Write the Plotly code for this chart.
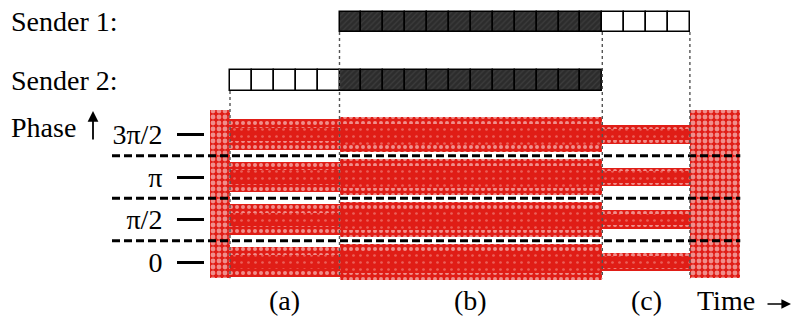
import plotly.graph_objects as go

# ---------------- data ----------------
# time is measured in symbol slots, phase in units of pi/2
phase_levels = [0, 1, 2, 3]
phase_labels = ["0", "π/2", "π", "3π/2"]
decision_bounds = [0.5, 1.5, 2.5]

sender1_slots = list(range(5, 21))
sender1_state = ["black"] * 12 + ["white"] * 4
sender2_slots = list(range(0, 17))
sender2_state = ["white"] * 5 + ["black"] * 12

seg_names = ["(a)", "(b)", "(c)"]
seg_start = [0, 5, 17]
seg_end = [5, 17, 21]
core_halfwidth = [0.16, 0.25, 0.14]
outer_halfwidth = [0.36, 0.42, 0.22]

noise_start = [-0.9, 21]
noise_end = [0, 23.3]
noise_low = -0.38
noise_high = 3.58

boundary_slots = [0, 5, 17, 21]
boundary_from_row = ["s2", "s1", "s1", "s1"]

# ---------------- layout constants ----------------
W, H = 793, 320
PX0, SLOT_PX = 230.0, 21.9      # pixel of slot 0, pixels per slot
Y0, STEP = 262.0, 42.5          # pixel of phase 0, pixels per pi/2
xr = [-PX0 / SLOT_PX, (W - PX0) / SLOT_PX]
yr = [(Y0 - H) / STEP, Y0 / STEP]
ROW = {"s1": ((Y0 - 32) / STEP, (Y0 - 11.7) / STEP),
       "s2": ((Y0 - 91) / STEP, (Y0 - 70) / STEP)}
RED = "#e01d16"
FONT = "Liberation Serif"

fig = go.Figure()

def band_bar(xs, ws, bases, hs, size, solidity, dense=False):
    if dense:
        pat = dict(shape=".", size=size, solidity=solidity, fillmode="overlay",
                   fgcolor="#f6a19c", bgcolor=RED)
    else:
        pat = dict(shape=".", size=size, solidity=solidity)
    fig.add_trace(go.Bar(
        x=xs, y=hs, base=bases, width=ws,
        marker=dict(color=RED, line=dict(width=0), pattern=pat),
        showlegend=False, hoverinfo="skip"))

# noise regions (no sender / collision edges)
band_bar([(a + b) / 2 for a, b in zip(noise_start, noise_end)],
         [b - a for a, b in zip(noise_start, noise_end)],
         [noise_low] * 2, [noise_high - noise_low] * 2, 6, 0.5)

# phase clouds per segment
for s0, s1, ch, oh in zip(seg_start, seg_end, core_halfwidth, outer_halfwidth):
    xc, w = (s0 + s1) / 2, s1 - s0
    band_bar([xc] * 4, [w] * 4, [p - oh for p in phase_levels], [2 * oh] * 4, 6, 0.35)
    band_bar([xc] * 4, [w] * 4, [p - ch for p in phase_levels], [2 * ch] * 4, 7, 0.12, dense=True)

# sender slots
def sender_bars(slots, states, row):
    lo, hi = ROW[row]
    for st in ["black", "white"]:
        xs = [s + 0.5 for s, t in zip(slots, states) if t == st]
        if st == "black":
            mk = dict(color="#2c2c2c", line=dict(color="black", width=1.5),
                      pattern=dict(shape="/", fgcolor="#4d4d4d", size=4,
                                   solidity=0.3, fillmode="overlay"))
        else:
            mk = dict(color="white", line=dict(color="black", width=1.5))
        fig.add_trace(go.Bar(x=xs, y=[hi - lo] * len(xs), base=[lo] * len(xs),
                             width=[1] * len(xs), marker=mk,
                             showlegend=False, hoverinfo="skip"))

sender_bars(sender1_slots, sender1_state, "s1")
sender_bars(sender2_slots, sender2_state, "s2")

# decision boundaries
for b in decision_bounds:
    fig.add_shape(type="line", x0=(112 - PX0) / SLOT_PX, x1=noise_end[-1], y0=b, y1=b,
                  line=dict(color="black", width=3.2, dash="8px,4px"), layer="above")

# vertical dotted separators
for s, r in zip(boundary_slots, boundary_from_row):
    fig.add_shape(type="line", x0=s, x1=s, y0=ROW[r][0], y1=noise_low,
                  line=dict(color="#555555", width=1.4, dash="dot"), layer="above")

def ann(text, x, y, xanchor="left", xref="paper"):
    fig.add_annotation(text=text, x=x, y=y, xref=xref, yref="paper",
                       xanchor=xanchor, yanchor="middle", showarrow=False,
                       font=dict(family=FONT, size=28, color="black"))

ann("Sender 1:", 9 / W, 1 - 21 / H)
ann("Sender 2:", 9 / W, 1 - 80 / H)
ann("Phase", 9 / W, 1 - 127 / H)
ann("Time", 695 / W, 1 - 300 / H)
for n, s0, s1 in zip(seg_names, seg_start, seg_end):
    ann(n, (s0 + s1) / 2, 1 - 300 / H, xanchor="center", xref="x")

# arrows next to the axis titles
fig.add_annotation(x=93 / W, y=1 - 111 / H, xref="paper", yref="paper",
                   ax=0, ay=30, showarrow=True, arrowhead=2, arrowsize=1.2,
                   arrowwidth=1.8, arrowcolor="black", text="")
fig.add_annotation(x=791 / W, y=1 - 304 / H, xref="paper", yref="paper",
                   ax=-25, ay=0, showarrow=True, arrowhead=2, arrowsize=1.2,
                   arrowwidth=1.6, arrowcolor="black", text="")

fig.update_layout(
    width=W, height=H, margin=dict(l=0, r=0, t=0, b=0),
    paper_bgcolor="white", plot_bgcolor="white", barmode="overlay",
    bargap=0,
    xaxis=dict(range=xr, visible=False, fixedrange=True),
    yaxis=dict(range=yr, anchor="free", position=204 / W, side="left",
               tickvals=phase_levels, ticktext=phase_labels,
               ticks="outside", ticklen=27, tickwidth=3.2, tickcolor="black",
               ticklabelstandoff=9,
               tickfont=dict(family=FONT, size=28, color="black"),
               showgrid=False, zeroline=False, showline=False, fixedrange=True),
)

fig.write_html("out.html")
